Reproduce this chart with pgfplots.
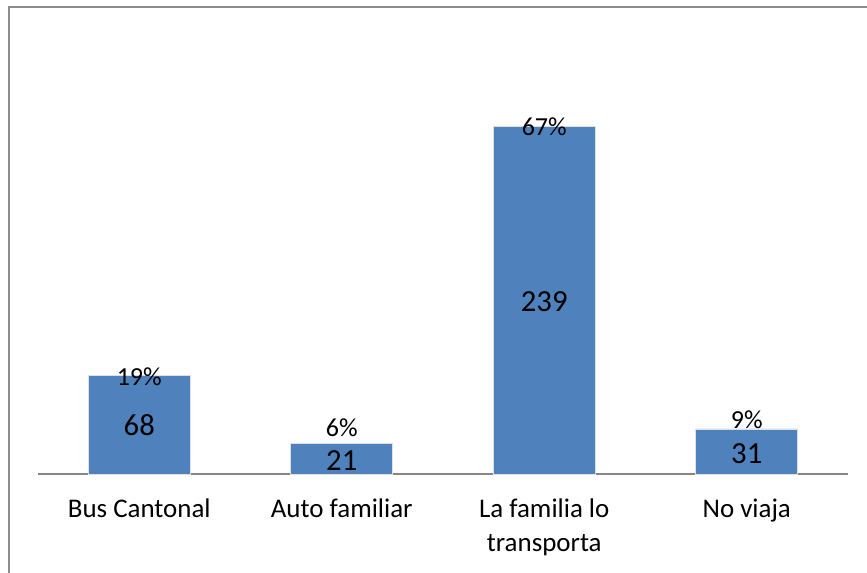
\documentclass[border=0pt]{standalone}
\usepackage{pgfplots}
\pgfplotsset{compat=1.18}
\usepackage{pgfplotstable}
\usepackage{fontspec}
\setmainfont{Carlito}
\definecolor{barblue}{HTML}{4F81BD}
\definecolor{axgray}{HTML}{868686}
\definecolor{framegray}{HTML}{8C8C8C}

\pgfplotstableread{
x y
0 68
1 21
2 239
3 31
}\bars

\pgfplotstableread{
x ypos label
0 33.4 68
1 9.6 21
2 118.5 239
3 13.8 31
}\vals

\pgfplotstableread{
x ypos label
0 66.8 19
1 31.7 6
2 239.0 67
3 37.2 9
}\pcts

\begin{document}
\begin{tikzpicture}
\useasboundingbox (0pt,0pt) rectangle (650.25pt,429pt);
\draw[framegray, line width=1.5pt] (6.4pt,423.6pt) rectangle (670pt,-20pt);
\begin{axis}[
  at={(28.5pt,73.5pt)}, anchor=south west,
  scale only axis,
  width=607.5pt, height=327pt,
  xmin=-0.5, xmax=3.5, ymin=0, ymax=300,
  axis x line=bottom,
  axis y line=none,
  x axis line style={-, color=axgray, line width=1.1pt},
  xtick={0,1,2,3},
  xticklabels={Bus Cantonal, Auto familiar, {La familia lo\\transporta}, No viaja},
  major tick length=0pt,
  xticklabel style={align=center, font=\fontsize{20.2}{25.5}\selectfont, yshift=-15pt},
  ytick=\empty,
  clip=false,
]
\addplot[ybar, bar width=76.5pt, fill=barblue, draw=black!12, line width=0.6pt] table[x=x, y=y] {\bars};
\addplot[draw=none, mark=none, nodes near coords={\pgfplotspointmeta},
  point meta=explicit symbolic,
  nodes near coords style={anchor=center, font=\fontsize{23}{27}\selectfont, text=black}]
  table[x=x, y=ypos, meta=label] {\vals};
\addplot[draw=none, mark=none, nodes near coords={\pgfplotspointmeta\%},
  point meta=explicit symbolic,
  nodes near coords style={anchor=center, font=\fontsize{19.5}{23}\selectfont, text=black}]
  table[x=x, y=ypos, meta=label] {\pcts};
\end{axis}
\end{tikzpicture}
\end{document}
